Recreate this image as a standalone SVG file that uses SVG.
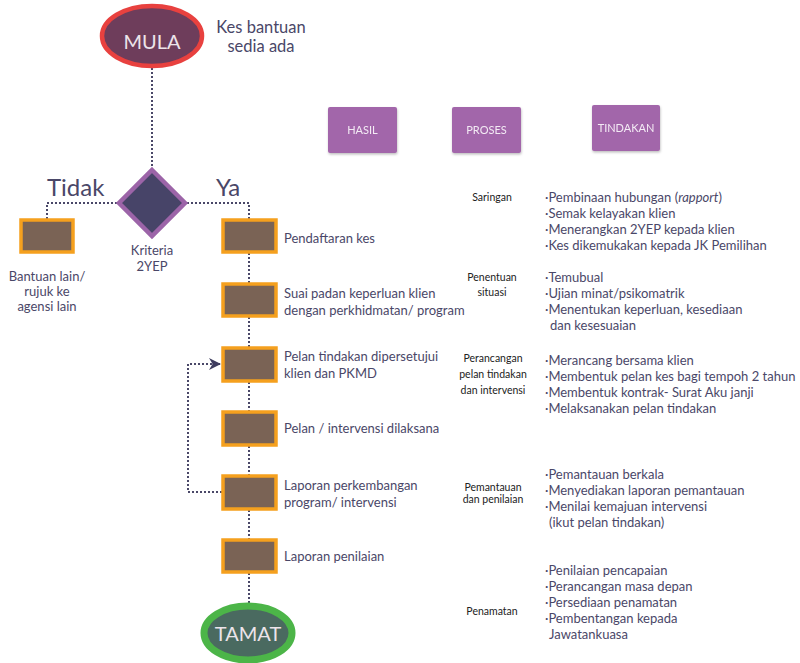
<svg xmlns="http://www.w3.org/2000/svg" width="800" height="663" viewBox="0 0 800 663">
  <style>
    .conn { fill: none; stroke: #4a4868; stroke-width: 2; stroke-dasharray: 2 2; }
    .step { fill: #7a6355; stroke: #f5a01e; stroke-width: 3.5; }
    .head { fill: #a266aa; }
    .headtxt { font-family: Lato, "Open Sans", sans-serif; font-size: 11px; fill: #f3eaf4; text-anchor: middle; }
    .lbl { font-family: Lato, "Open Sans", sans-serif; font-size: 13px; fill: #4a4768; }
    .note { font-family: Lato, "Open Sans", sans-serif; font-size: 16.5px; fill: #4a4768; text-anchor: middle; }
    .proc { font-family: Lato, "Open Sans", sans-serif; font-size: 10.5px; fill: #222222; text-anchor: middle; }
    .act { font-family: Lato, "Open Sans", sans-serif; font-size: 13px; fill: #4a4768; }
    .big { font-family: Lato, "Open Sans", sans-serif; font-size: 24px; fill: #4a4768; }
    .term { font-family: Lato, "Open Sans", sans-serif; font-size: 20px; fill: #ece4ea; text-anchor: middle; }
  </style>
  <defs>
    <marker id="arrow" viewBox="0 0 10 10" refX="10" refY="5" markerWidth="13" markerHeight="12" markerUnits="userSpaceOnUse" orient="auto">
      <path d="M0,0 L10,5 L0,10 L3,5 Z" fill="#3e3c5e"/>
    </marker>
    <filter id="shadow" x="-20%" y="-20%" width="140%" height="150%">
      <feDropShadow dx="0.5" dy="1.5" stdDeviation="1.2" flood-color="#000" flood-opacity="0.25"/>
    </filter>
  </defs>

  <!-- connectors -->
  <g id="connectors">
    <path class="conn" d="M152,68 V168"/>
    <path class="conn" d="M117,203 H47 V219"/>
    <path class="conn" d="M187,203 H249 V219"/>
    <path class="conn" d="M249,253 V283"/>
    <path class="conn" d="M249,317 V347"/>
    <path class="conn" d="M249,382 V411"/>
    <path class="conn" d="M249,446 V475"/>
    <path class="conn" d="M249,510 V539"/>
    <path class="conn" d="M249,573 V603"/>
    <path class="conn" d="M222,492 H188 V364 H221" marker-end="url(#arrow)"/>
  </g>

  <!-- start -->
  <g id="mula">
    <ellipse cx="152" cy="36" rx="50" ry="30" fill="#6e3d5b" stroke="#e8413f" stroke-width="4.5"/>
    <text class="term" x="152" y="49">MULA</text>
  </g>
  <g id="mula-note">
    <text class="note" x="261" y="33">Kes bantuan</text>
    <text class="note" x="261" y="52">sedia ada</text>
  </g>

  <!-- decision -->
  <g id="kriteria">
    <polygon points="152,170 185,203 152,236 119,203" fill="#474468" stroke="#9c64a8" stroke-width="4.5"/>
    <text class="lbl" x="152" y="255" text-anchor="middle">Kriteria</text>
    <text class="lbl" x="152" y="271" text-anchor="middle">2YEP</text>
  </g>
  <text class="big" x="47" y="196">Tidak</text>
  <text class="big" x="216" y="196">Ya</text>

  <!-- other help -->
  <g id="bantuan">
    <rect class="step" x="21" y="220" width="52" height="32"/>
    <text class="lbl" x="47" y="281" text-anchor="middle">Bantuan lain/</text>
    <text class="lbl" x="47" y="296" text-anchor="middle">rujuk ke</text>
    <text class="lbl" x="47" y="311" text-anchor="middle">agensi lain</text>
  </g>

  <!-- main steps -->
  <g id="pendaftaran">
    <rect class="step" x="223" y="220" width="53" height="32"/>
    <text class="lbl" x="284" y="243">Pendaftaran kes</text>
  </g>
  <g id="suai-padan">
    <rect class="step" x="223" y="284" width="53" height="32"/>
    <text class="lbl" x="284" y="298">Suai padan keperluan klien</text>
    <text class="lbl" x="284" y="315">dengan perkhidmatan/ program</text>
  </g>
  <g id="pelan-tindakan">
    <rect class="step" x="223" y="348" width="53" height="33"/>
    <text class="lbl" x="284" y="361">Pelan tindakan dipersetujui</text>
    <text class="lbl" x="284" y="378">klien dan PKMD</text>
  </g>
  <g id="pelan-intervensi">
    <rect class="step" x="223" y="412" width="53" height="33"/>
    <text class="lbl" x="284" y="433">Pelan / intervensi dilaksana</text>
  </g>
  <g id="laporan-perkembangan">
    <rect class="step" x="223" y="476" width="53" height="33"/>
    <text class="lbl" x="284" y="490">Laporan perkembangan</text>
    <text class="lbl" x="284" y="507">program/ intervensi</text>
  </g>
  <g id="laporan-penilaian">
    <rect class="step" x="223" y="540" width="53" height="32"/>
    <text class="lbl" x="284" y="561">Laporan penilaian</text>
  </g>

  <!-- end -->
  <g id="tamat">
    <ellipse cx="248" cy="633" rx="44" ry="27" fill="#4a6a60" stroke="#4cb548" stroke-width="7"/>
    <text class="term" x="248" y="641">TAMAT</text>
  </g>

  <!-- column headers -->
  <g id="hasil" filter="url(#shadow)">
    <rect class="head" x="328" y="107" width="69" height="46" rx="2"/>
    <text class="headtxt" x="362.5" y="134">HASIL</text>
  </g>
  <g id="proses" filter="url(#shadow)">
    <rect class="head" x="452" y="107" width="69" height="46" rx="2"/>
    <text class="headtxt" x="486.5" y="134">PROSES</text>
  </g>
  <g id="tindakan" filter="url(#shadow)">
    <rect class="head" x="592" y="105" width="68" height="46" rx="2"/>
    <text class="headtxt" x="626" y="132">TINDAKAN</text>
  </g>

  <!-- process stages -->
  <g id="proses-saringan">
    <text class="proc" x="492" y="201">Saringan</text>
  </g>
  <g id="proses-penentuan">
    <text class="proc" x="492" y="281">Penentuan</text>
    <text class="proc" x="492" y="296">situasi</text>
  </g>
  <g id="proses-perancangan">
    <text class="proc" x="493" y="362">Perancangan</text>
    <text class="proc" x="493" y="378">pelan tindakan</text>
    <text class="proc" x="493" y="394">dan intervensi</text>
  </g>
  <g id="proses-pemantauan">
    <text class="proc" x="493" y="491">Pemantauan</text>
    <text class="proc" x="493" y="503">dan penilaian</text>
  </g>
  <g id="proses-penamatan">
    <text class="proc" x="492" y="615">Penamatan</text>
  </g>

  <!-- actions -->
  <g id="tindakan-saringan">
    <text class="act" x="545" y="202">·Pembinaan hubungan (<tspan font-style="italic">rapport</tspan>)</text>
    <text class="act" x="545" y="218">·Semak kelayakan klien</text>
    <text class="act" x="545" y="234">·Menerangkan 2YEP kepada klien</text>
    <text class="act" x="545" y="250">·Kes dikemukakan kepada JK Pemilihan</text>
  </g>
  <g id="tindakan-penentuan">
    <text class="act" x="545" y="282">·Temubual</text>
    <text class="act" x="545" y="298">·Ujian minat/psikomatrik</text>
    <text class="act" x="545" y="314">·Menentukan keperluan, kesediaan</text>
    <text class="act" x="550" y="330">dan kesesuaian</text>
  </g>
  <g id="tindakan-perancangan">
    <text class="act" x="545" y="365">·Merancang bersama klien</text>
    <text class="act" x="545" y="381">·Membentuk pelan kes bagi tempoh 2 tahun</text>
    <text class="act" x="545" y="397">·Membentuk kontrak- Surat Aku janji</text>
    <text class="act" x="545" y="413">·Melaksanakan pelan tindakan</text>
  </g>
  <g id="tindakan-pemantauan">
    <text class="act" x="545" y="479">·Pemantauan berkala</text>
    <text class="act" x="545" y="495">·Menyediakan laporan pemantauan</text>
    <text class="act" x="545" y="511">·Menilai kemajuan intervensi</text>
    <text class="act" x="549" y="527">(ikut pelan tindakan)</text>
  </g>
  <g id="tindakan-penamatan">
    <text class="act" x="545" y="575">·Penilaian pencapaian</text>
    <text class="act" x="545" y="591">·Perancangan masa depan</text>
    <text class="act" x="545" y="607">·Persediaan penamatan</text>
    <text class="act" x="545" y="623">·Pembentangan kepada</text>
    <text class="act" x="549" y="639">Jawatankuasa</text>
  </g>
</svg>
